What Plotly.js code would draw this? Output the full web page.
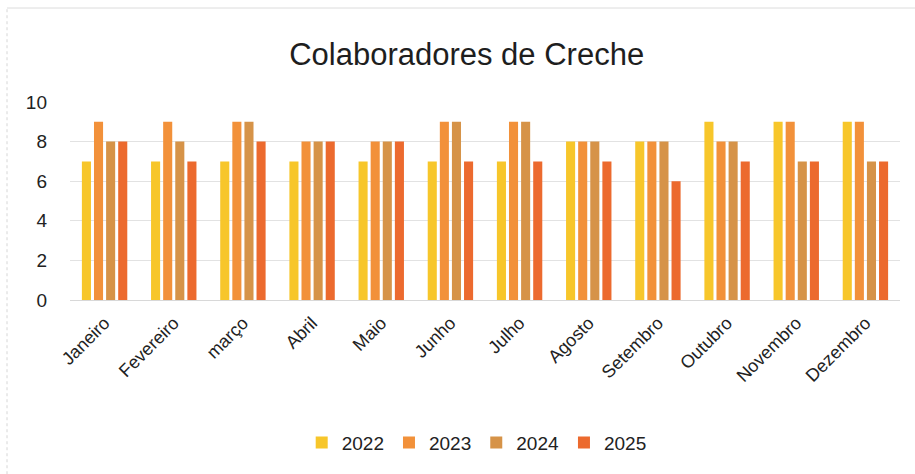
<!DOCTYPE html>
<html>
<head>
<meta charset="utf-8">
<script src="https://cdn.plot.ly/plotly-3.0.1.min.js"></script>
<style>html,body{margin:0;padding:0;background:#fff;}#chart{width:915px;height:474px;}</style>
</head>
<body>
<div id="chart"></div>
<script>
const months = ["Janeiro","Fevereiro","março","Abril","Maio","Junho","Julho","Agosto","Setembro","Outubro","Novembro","Dezembro"];
const seriesNames = ["2022","2023","2024","2025"];
const v2022 = [7,7,7,7,7,7,7,8,8,9,9,9];
const v2023 = [9,9,9,8,8,9,9,8,8,8,9,9];
const v2024 = [8,8,9,8,8,9,9,8,8,8,7,7];
const v2025 = [8,7,8,8,8,7,7,7,6,7,7,7];
const colors = ["#F7C62A","#F2913A","#D69348","#EC6A2E"];
const values = [v2022, v2023, v2024, v2025];

const traces = values.map((v, i) => ({
  type: "bar", name: seriesNames[i], x: months, y: v,
  marker: {color: colors[i]}
}));

const layout = {
  width: 915, height: 474,
  paper_bgcolor: "#fff", plot_bgcolor: "#fff",
  font: {family: "Liberation Sans, Arial, sans-serif", color: "#222"},
  margin: {l: 70, r: 15, t: 102, b: 174},
  title: {text: "Colaboradores de Creche", font: {size: 31, color: "#1e1e1e"}, x: 0.51, xanchor: "center", y: 0.885, yanchor: "middle"},
  barmode: "group", bargap: 0.3, bargroupgap: 0.25,
  xaxis: {tickangle: -45, tickfont: {size: 18, color: "#222"}, showline: false, ticks: "", ticklabelstandoff: 8},
  yaxis: {range: [0, 10], dtick: 2, tickfont: {size: 19, color: "#222"}, gridcolor: "#e2e2e2", zeroline: true, zerolinecolor: "#d8d8d8", ticks: "", ticklabelstandoff: 22},
  legend: {orientation: "h", x: 0.49, xanchor: "center", y: -0.72, yanchor: "middle", font: {size: 19, color: "#222"}, itemwidth: 30},
  shapes: [
    {type: "line", xref: "paper", yref: "paper", x0: -0.0759, x1: -0.0759, y0: -0.88, y1: 1.4747, line: {color: "#d6d6d6", width: 1, dash: "dot"}},
    {type: "line", xref: "paper", yref: "paper", x0: -0.0759, x1: 1.02, y0: 1.4747, y1: 1.4747, line: {color: "#dcdcdc", width: 1}}
  ],
  showlegend: true
};
Plotly.newPlot("chart", traces, layout, {displayModeBar: false});
</script>
</body>
</html>
